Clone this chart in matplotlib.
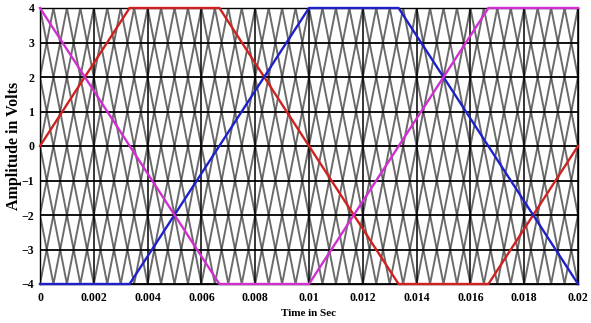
import numpy as np
import matplotlib
matplotlib.use("Agg")
import matplotlib.pyplot as plt

# Modulating (reference) waves: breakpoints
red_t = [0.0, 0.00333, 0.00667, 0.01333, 0.01667, 0.02]
red_v = [0, 4, 4, -4, -4, 0]
blue_t = [0.0, 0.00333, 0.01, 0.01333, 0.02]
blue_v = [-4, -4, 4, 4, -4]
mag_t = [0.0, 0.00667, 0.01, 0.01667, 0.02]
mag_v = [4, -4, -4, 4, 4]

# Carrier description (phase-shifted triangular carriers)
carrier_count = 8
carrier_period = 0.004
carrier_amp = 4.0
t_end = 0.02

xticks = [0, 0.002, 0.004, 0.006, 0.008, 0.01, 0.012, 0.014, 0.016, 0.018, 0.02]
xtick_labels = ["0", "0.002", "0.004", "0.006", "0.008", "0.01", "0.012",
                "0.014", "0.016", "0.018", "0.02"]
yticks = [4, 3, 2, 1, 0, -1, -2, -3, -4]

plt.rcParams['font.family'] = ['Liberation Serif', 'DejaVu Serif']

fig = plt.figure(figsize=(5.91, 3.23), dpi=100)
ax = fig.add_axes([40/591, 1 - 284/323, 538/591, 276/323])

# carriers
for k in range(carrier_count):
    shift = k * carrier_period / carrier_count
    half = carrier_period / 2
    n0 = int(np.floor((0 - shift) / half)) - 1
    n1 = int(np.ceil((t_end - shift) / half)) + 1
    tv = np.array([shift + n * half for n in range(n0, n1 + 1)])
    vv = np.array([carrier_amp if n % 2 == 0 else -carrier_amp for n in range(n0, n1 + 1)])
    ax.plot(tv, vv, color='#3a3a3a', lw=1.4, alpha=0.75, zorder=1)

for yv in yticks:
    ax.axhline(yv, color='black', lw=1.3, zorder=2)
for xv in xticks:
    ax.axvline(xv, color='black', lw=1.1, zorder=2)

ax.plot(red_t, red_v, color='#d02020', lw=1.7, zorder=3, clip_on=False)
ax.plot(blue_t, blue_v, color='#2020c8', lw=1.7, zorder=3, clip_on=False)
ax.plot(mag_t, mag_v, color='#d030d0', lw=1.7, zorder=3, clip_on=False)

ax.set_xlim(0, 0.02)
ax.set_ylim(-4, 4)
ax.set_xticks(xticks)
ax.set_xticklabels(xtick_labels)
ax.set_yticks(yticks)
ax.tick_params(axis='x', length=0, labelsize=8.5, pad=6)
ax.tick_params(axis='y', length=0, labelsize=8.5, pad=4)
for lab in ax.get_xticklabels() + ax.get_yticklabels():
    lab.set_fontweight('bold')
for s in ax.spines.values():
    s.set_linewidth(1.0)
ax.set_xlabel("Time in Sec", fontsize=8, fontweight='bold', labelpad=3)
ax.set_ylabel("Amplitude in Volts", fontsize=11.5, fontweight='bold', labelpad=0)

fig.savefig("out.png", dpi=100)
